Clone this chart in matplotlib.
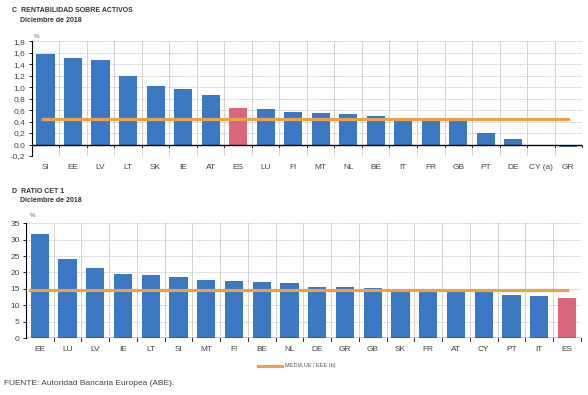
import matplotlib.pyplot as plt
import numpy as np

# panel C: rentabilidad sobre activos (%)
roa_paises = ['SI', 'EE', 'LV', 'LT', 'SK', 'IE', 'AT', 'ES', 'LU', 'FI',
              'MT', 'NL', 'BE', 'IT', 'FR', 'GB', 'PT', 'DE', 'CY (a)', 'GR']
roa_valores = [1.57, 1.51, 1.47, 1.20, 1.02, 0.97, 0.86, 0.63, 0.61, 0.57,
               0.55, 0.53, 0.49, 0.45, 0.43, 0.42, 0.20, 0.09, np.nan, -0.05]
roa_media = 0.45

# panel D: ratio CET 1 (%)
cet_paises = ['EE', 'LU', 'LV', 'IE', 'LT', 'SI', 'MT', 'FI', 'BE', 'NL',
              'DE', 'GR', 'GB', 'SK', 'FR', 'AT', 'CY', 'PT', 'IT', 'ES']
cet_valores = [31.6, 24.2, 21.3, 19.6, 19.1, 18.6, 17.7, 17.3, 17.1, 16.9,
               15.6, 15.6, 15.4, 14.7, 14.5, 14.4, 14.1, 13.2, 12.8, 12.2]
cet_media = 14.8

AZUL = '#3a78c3'
ROJO = '#d9687a'
NARANJA = '#e9a24c'
GRIS = '#444444'

plt.rcParams['font.family'] = ['Liberation Sans', 'DejaVu Sans']

fig = plt.figure(figsize=(5.88, 3.95), dpi=100)


def panel(ax, paises, valores, media, ylim, yticks, fmt, xmedia):
    n = len(paises)
    x = np.arange(n)
    colores = [ROJO if p == 'ES' else AZUL for p in paises]
    ax.bar(x, np.nan_to_num(valores), width=0.66, color=colores, zorder=3)
    ax.plot(xmedia, [media, media], color=NARANJA, lw=2.3, zorder=4)
    ax.set_xlim(-0.5, n - 0.5)
    ax.set_ylim(*ylim)
    ax.set_yticks(yticks)
    ax.set_yticklabels([fmt(v) for v in yticks], fontsize=6, color=GRIS)
    ax.set_xticks(x)
    ax.set_xticklabels(paises, fontsize=6, color=GRIS)
    ax.tick_params(axis='x', length=0, pad=6)
    ax.tick_params(axis='y', length=2.5, width=0.6, pad=2)
    bordes = np.arange(-0.5, n, 1.0)[1:]
    for b in bordes:
        ax.axvline(b, color='#cccccc', lw=0.6, zorder=1)
    ax.yaxis.grid(True, color='#bbbbbb', ls=(0, (1.5, 1.5)), lw=0.6, zorder=1)
    for s in ['top', 'right', 'bottom']:
        ax.spines[s].set_visible(False)
    ax.spines['left'].set_linewidth(0.8)
    ax.axhline(0, color='black', lw=1.0, zorder=5)
    span = ylim[1] - ylim[0]
    for b in bordes:
        ax.plot([b, b], [0, -span * 0.025], color='black', lw=0.6, zorder=5,
                clip_on=False)


ax1 = fig.add_axes([0.054, 0.605, 0.936, 0.291])
panel(ax1, roa_paises, roa_valores, roa_media, (-0.2, 1.8),
      np.round(np.arange(-0.2, 1.81, 0.2), 1),
      lambda v: f'{v:.1f}'.replace('.', ','), [-0.1, 19.0])

ax2 = fig.add_axes([0.044, 0.144, 0.944, 0.291])
panel(ax2, cet_paises, cet_valores, cet_media, (0, 35),
      np.arange(0, 36, 5), lambda v: f'{v:d}', [-0.35, 19.0])

# titulos
fig.text(0.020, 0.982, 'C  RENTABILIDAD SOBRE ACTIVOS', fontsize=5.0,
         fontweight='bold', color='#333333', va='top')
fig.text(0.034, 0.958, 'Diciembre de 2018', fontsize=5.0,
         fontweight='bold', color='#333333', va='top')
fig.text(0.058, 0.915, '%', fontsize=4.5, color='#666666', va='top')

fig.text(0.020, 0.525, 'D  RATIO CET 1', fontsize=5.0,
         fontweight='bold', color='#333333', va='top')
fig.text(0.034, 0.502, 'Diciembre de 2018', fontsize=5.0,
         fontweight='bold', color='#333333', va='top')
fig.text(0.050, 0.462, '%', fontsize=4.5, color='#666666', va='top')

# leyenda
fig.add_artist(plt.Line2D([0.438, 0.480], [0.074, 0.074], color=NARANJA,
                          lw=2.3, transform=fig.transFigure))
fig.text(0.484, 0.074, 'MEDIA UE / EEE (b)', fontsize=4, color='#555555',
         va='center')

fig.text(0.006, 0.030, 'FUENTE: Autoridad Bancaria Europea (ABE).',
         fontsize=6, color='#444444', va='center')

fig.savefig('out.png', dpi=100)
